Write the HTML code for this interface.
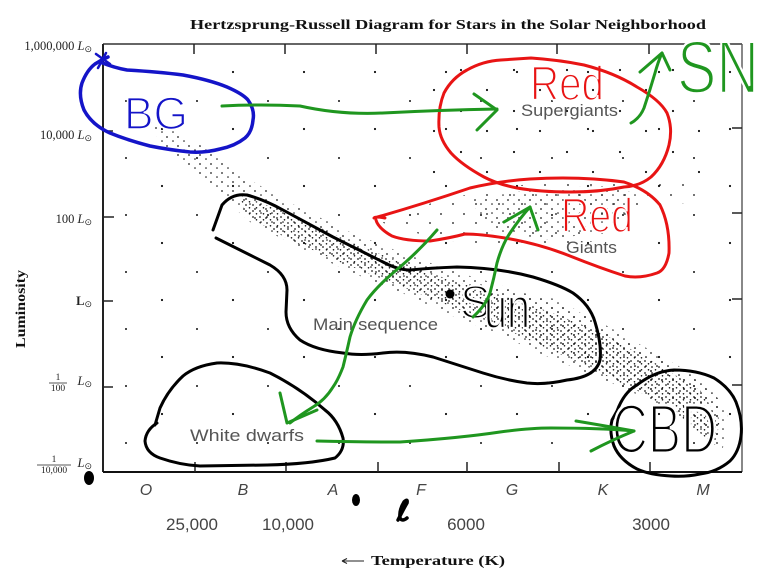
<!DOCTYPE html>
<html><head><meta charset="utf-8"><style>
html,body{margin:0;padding:0;background:#fff;}
svg{display:block;}
</style></head><body>
<svg width="768" height="576" viewBox="0 0 768 576" xmlns="http://www.w3.org/2000/svg">
<defs>
<pattern id="pd" width="7" height="6" patternUnits="userSpaceOnUse"><circle cx="1" cy="1" r="0.85" fill="#111"/><circle cx="4.5" cy="3.8" r="0.8" fill="#111"/></pattern>
<pattern id="pm" width="11" height="9" patternUnits="userSpaceOnUse"><circle cx="2" cy="2" r="0.85" fill="#111"/><circle cx="8" cy="6" r="0.8" fill="#111"/></pattern>
<pattern id="ps" width="23" height="19" patternUnits="userSpaceOnUse"><circle cx="4" cy="5" r="0.9" fill="#111"/><circle cx="16" cy="14" r="0.9" fill="#111"/></pattern>
<pattern id="pvs" width="53" height="41" patternUnits="userSpaceOnUse"><circle cx="10" cy="8" r="1.1" fill="#111"/><circle cx="37" cy="29" r="1.1" fill="#111"/></pattern>
<pattern id="px" width="71" height="57" patternUnits="userSpaceOnUse"><circle cx="20" cy="15" r="1.1" fill="#111"/><circle cx="55" cy="44" r="1" fill="#111"/></pattern>
</defs>

<!-- title -->
<text x="190" y="29" font-family="Liberation Serif, serif" font-weight="bold" font-size="14" textLength="516" lengthAdjust="spacingAndGlyphs" fill="#111">Hertzsprung-Russell Diagram for Stars in the Solar Neighborhood</text>

<!-- star dots -->
<rect x="106" y="48" width="633" height="421" fill="url(#px)"/>
<rect x="430" y="55" width="270" height="130" fill="url(#pvs)"/>
<path d="M150,118 L200,145 L250,180 L300,208 L350,232 L400,252 L450,270 L500,285 L550,302 L600,322 L650,350 L700,378 L728,410 L722,455 L700,432 L650,400 L600,378 L550,358 L500,335 L450,315 L400,292 L350,272 L300,248 L250,222 L200,178 L160,145 Z" fill="url(#pm)"/>
<path d="M240,195 L300,218 L350,242 L400,262 L450,280 L500,295 L550,312 L600,332 L650,360 L700,390 L720,420 L715,445 L690,425 L640,392 L590,368 L540,345 L490,322 L440,302 L390,282 L340,262 L290,240 L245,215 Z" fill="url(#pd)"/>
<path d="M480,285 L560,300 L600,325 L640,350 L690,375 L720,400 L722,440 L690,420 L640,390 L595,365 L545,345 L495,315 Z" fill="url(#pm)"/>
<path d="M380,222 L440,200 L500,188 L560,180 L620,178 L690,182 L700,200 L650,210 L610,238 L560,248 L500,245 L440,240 Z" fill="url(#ps)"/>
<path d="M470,200 L540,188 L610,186 L640,195 L610,230 L550,240 L490,230 Z" fill="url(#pm)"/>

<!-- frame -->
<line x1="103" y1="44" x2="742" y2="44" stroke="#333" stroke-width="1.6"/>
<line x1="742" y1="44" x2="742" y2="472" stroke="#555" stroke-width="1.4"/>
<line x1="103" y1="44" x2="103" y2="472" stroke="#222" stroke-width="2"/>
<line x1="103" y1="472" x2="742" y2="472" stroke="#111" stroke-width="2"/>
<g stroke="#222" stroke-width="1.5">
<line x1="195" y1="462" x2="195" y2="472"/><line x1="286" y1="462" x2="286" y2="472"/><line x1="378" y1="462" x2="378" y2="472"/><line x1="467" y1="462" x2="467" y2="472"/><line x1="559" y1="462" x2="559" y2="472"/><line x1="650" y1="462" x2="650" y2="472"/>
<line x1="194" y1="44" x2="194" y2="54"/><line x1="285" y1="44" x2="285" y2="54"/><line x1="376" y1="44" x2="376" y2="54"/><line x1="467" y1="44" x2="467" y2="54"/><line x1="557" y1="44" x2="557" y2="54"/><line x1="649" y1="44" x2="649" y2="54"/>
<line x1="103" y1="131" x2="113" y2="131"/><line x1="103" y1="217" x2="114" y2="217"/><line x1="103" y1="301" x2="113" y2="301"/><line x1="103" y1="387" x2="113" y2="387"/>
<line x1="732" y1="128" x2="742" y2="128"/><line x1="732" y1="213" x2="742" y2="213"/><line x1="732" y1="299" x2="742" y2="299"/><line x1="732" y1="385" x2="742" y2="385"/>
</g>

<!-- y labels -->
<g font-family="Liberation Serif, serif" font-size="12.5" fill="#222" text-anchor="end">
<text x="92" y="50">1,000,000 <tspan font-style="italic">L</tspan><tspan font-size="9" dy="2">⊙</tspan></text>
<text x="92" y="139">10,000 <tspan font-style="italic">L</tspan><tspan font-size="9" dy="2">⊙</tspan></text>
<text x="92" y="223">100 <tspan font-style="italic">L</tspan><tspan font-size="9" dy="2">⊙</tspan></text>
<text x="92" y="305"><tspan font-weight="bold">L</tspan><tspan font-size="9" dy="2">⊙</tspan></text>
<text x="92" y="385"><tspan font-style="italic">L</tspan><tspan font-size="9" dy="2">⊙</tspan></text>
<text x="92" y="467"><tspan font-style="italic">L</tspan><tspan font-size="9" dy="2">⊙</tspan></text>
</g>
<g font-family="Liberation Serif, serif" font-size="9.5" fill="#222" text-anchor="middle">
<text x="58" y="380">1</text><text x="58" y="391">100</text>
<text x="54" y="462">1</text><text x="54" y="473">10,000</text>
</g>
<line x1="49" y1="383" x2="67" y2="383" stroke="#222" stroke-width="0.8"/>
<line x1="37" y1="465" x2="71" y2="465" stroke="#222" stroke-width="0.8"/>
<text transform="translate(25,309) rotate(-90)" text-anchor="middle" font-family="Liberation Serif, serif" font-weight="bold" font-size="14" textLength="78" lengthAdjust="spacingAndGlyphs" fill="#111">Luminosity</text>

<!-- x labels -->
<g font-family="Liberation Sans, sans-serif" font-style="italic" font-size="16" fill="#444" text-anchor="middle">
<text x="146" y="495">O</text><text x="243" y="495">B</text><text x="333" y="495">A</text><text x="421" y="495">F</text><text x="512" y="495">G</text><text x="603" y="495">K</text><text x="703" y="495">M</text>
</g>
<g font-family="Liberation Sans, sans-serif" font-size="17" fill="#444" text-anchor="middle">
<text x="192" y="530">25,000</text><text x="288" y="530">10,000</text><text x="466" y="530">6000</text><text x="651" y="530">3000</text>
</g>
<line x1="342" y1="561" x2="364" y2="561" stroke="#222" stroke-width="1"/>
<path d="M342,561 L347,558.5 M342,561 L347,563.5" stroke="#222" stroke-width="1" fill="none"/>
<text x="371" y="565" font-family="Liberation Serif, serif" font-weight="bold" font-size="14" textLength="134" lengthAdjust="spacingAndGlyphs" fill="#111">Temperature (K)</text>

<!-- region labels -->
<g font-family="Liberation Sans, sans-serif" font-size="17" fill="#555">
<text x="521" y="116" textLength="97" lengthAdjust="spacingAndGlyphs">Supergiants</text>
<text x="566" y="253" textLength="51" lengthAdjust="spacingAndGlyphs">Giants</text>
<text x="313" y="330" textLength="125" lengthAdjust="spacingAndGlyphs">Main sequence</text>
<text x="190" y="441" textLength="114" lengthAdjust="spacingAndGlyphs">White dwarfs</text>
</g>

<!-- black annotations -->
<g fill="none" stroke="#000" stroke-width="3" stroke-linecap="round" stroke-linejoin="round">
<path d="M213,230 L222,205 Q232,193 247,195 Q265,200 283,210 L333,237 L383,262 Q398,270 410,270 Q430,268 457,267 Q500,268 533,277 Q560,285 573,293 Q590,305 595,322 Q602,345 600,360 Q596,377 567,380 Q545,385 527,383 Q505,380 483,373 L433,357 Q405,350 383,353 Q360,356 343,353 Q315,350 300,340 Q286,328 286,312 L287,290 Q287,275 270,265 L216,238"/>
<path d="M157,423 Q146,430 145,441 Q146,453 160,458 Q180,465 200,466 L267,465 Q310,464 335,458 Q345,450 343,438 Q338,420 325,410 Q300,388 270,373 Q240,362 217,363 Q195,366 183,376 Q168,390 160,408 L155,425"/>
<path d="M617,411 Q624,392 637,385 Q655,371 674,370 Q697,370 714,378 Q730,388 736,402 Q743,420 741,436 Q739,452 730,461 Q717,472 700,474 Q686,477 671,476 Q650,475 637,469 Q620,460 614,446 Q609,432 612,420 Z"/>
</g>
<circle cx="450" cy="294" r="4.5" fill="#000"/>
<ellipse cx="89" cy="478" rx="5" ry="7" fill="#000"/>
<ellipse cx="356" cy="500" rx="4" ry="6" fill="#000"/>
<path d="M398,520 Q404,508 407,503 Q408,498 404,502 Q399,510 400,518 Q402,522 407,518" fill="none" stroke="#000" stroke-width="3.5" stroke-linecap="round"/>
<g font-family="Liberation Sans, sans-serif" fill="#000" stroke="#fff">
<text x="460" y="318" font-size="46" stroke-width="2">S</text>
<text x="484" y="328" font-size="58" stroke-width="2.2" textLength="46" lengthAdjust="spacingAndGlyphs">un</text>
<text x="612" y="453" font-size="70" stroke-width="3" textLength="105" lengthAdjust="spacingAndGlyphs">CBD</text>
</g>

<!-- blue -->
<path d="M100,62 Q115,68 127,70 Q160,72 183,75 Q210,80 227,87 Q243,94 248,100 Q255,110 253,120 Q252,132 245,138 Q235,146 220,149 Q205,153 190,152 Q170,150 150,146 Q127,140 110,133 Q92,125 84,110 Q78,95 82,83 Q87,70 95,64 Q101,60 108,57" fill="none" stroke="#1414c8" stroke-width="3.5" stroke-linecap="round"/>
<path d="M96,54 L110,64 M106,53 L98,68" stroke="#1414c8" stroke-width="2.5" stroke-linecap="round"/>
<text x="124" y="129" font-family="Liberation Sans, sans-serif" font-size="45" fill="#1414c8" stroke="#fff" stroke-width="1.6" textLength="64" lengthAdjust="spacingAndGlyphs">BG</text>

<!-- red -->
<g font-family="Liberation Sans, sans-serif" fill="#e81414" stroke="#fff" stroke-width="1.8">
<text x="530" y="100" font-size="48" textLength="74" lengthAdjust="spacingAndGlyphs">Red</text>
<text x="561" y="232" font-size="48" textLength="72" lengthAdjust="spacingAndGlyphs">Red</text>
</g>
<g fill="none" stroke="#e81414" stroke-width="3" stroke-linecap="round" stroke-linejoin="round">
<path d="M531,58 Q560,60 584,65 Q615,73 637,87 Q660,100 667,113 Q673,128 669,145 Q664,165 651,177 Q640,186 624,187 Q600,192 571,192 Q540,192 517,188 Q497,184 484,177 Q462,165 451,153 Q440,140 439,127 Q438,108 444,93 Q452,78 467,70 Q483,61 501,60 Z"/>
<path d="M385,218 Q375,216 374,218 Q420,205 470,188 Q500,181 530,179 Q580,176 624,182 Q648,190 660,205 Q670,225 669,253 Q666,270 657,273 Q640,279 625,276 Q600,268 570,256 Q540,244 505,238 Q480,234 465,234 Q450,238 430,241 Q405,241 392,236 Q378,228 376,220"/>
</g>

<!-- green -->
<text x="677" y="93" font-family="Liberation Sans, sans-serif" font-size="74" fill="#1f961f" stroke="#fff" stroke-width="2.5" textLength="82" lengthAdjust="spacingAndGlyphs">SN</text>
<g fill="none" stroke="#1f961f" stroke-width="3" stroke-linecap="round" stroke-linejoin="round">
<path d="M222,106 Q260,104 300,106 Q340,115 383,113 Q440,110 497,109"/>
<path d="M474,94 L497,110 L477,130"/>
<path d="M631,123 Q640,118 644,108 Q650,90 655,73 Q658,62 662,53"/>
<path d="M640,72 L662,53 L670,70"/>
<path d="M317,441 Q360,442 400,442 Q460,438 500,432 Q530,428 551,428 Q600,428 634,431"/>
<path d="M576,421 Q600,425 634,431 Q612,440 591,451"/>
<path d="M437,230 Q420,250 400,267 Q378,285 367,300 Q355,320 350,337 Q346,355 343,367 Q338,380 333,387 Q325,400 313,407 Q300,415 290,423"/>
<path d="M280,393 L287,423 L317,410"/>
<path d="M473,317 Q486,305 490,293 Q494,278 497,263 Q502,245 510,233 Q520,218 530,207"/>
<path d="M504,222 L530,207 L538,230"/>
</g>
</svg>
</body></html>
